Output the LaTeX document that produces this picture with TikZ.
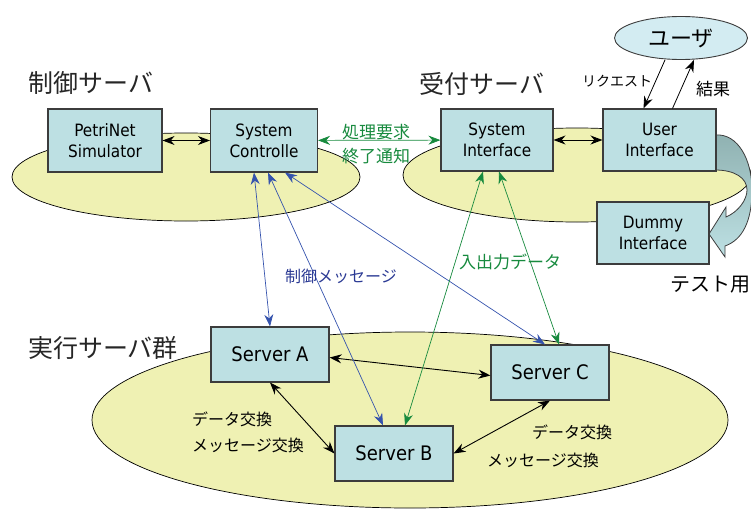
\documentclass[tikz,border=0pt]{standalone}
\usepackage{fontspec}
\setmainfont{DejaVu Sans Condensed}
\newfontfamily\jpfont{Noto Sans CJK JP}
\usetikzlibrary{positioning}
\usetikzlibrary{shapes.geometric, arrows.meta}

\definecolor{boxfill}{HTML}{BDE0E3}
\definecolor{boxline}{HTML}{3C3C3C}
\definecolor{groupfill}{HTML}{EFF1B3}
\definecolor{userfill}{HTML}{D3ECF2}
\definecolor{turndark}{HTML}{8FB1B1}
\definecolor{ctrlblue}{HTML}{3553AD}
\definecolor{ctrltext}{HTML}{2B3A94}
\definecolor{datagreen}{HTML}{178A3E}

\tikzset{
    unitbox/.style={rectangle, draw=boxline, line width=1.1pt, fill=boxfill,
        align=center, inner sep=0pt, font=\fontsize{17}{21}\selectfont},
    serverbox/.style={unitbox, minimum width=118pt, minimum height=55pt,
        font=\fontsize{20}{24}\selectfont},
    groupellipse/.style={ellipse, draw=black, line width=0.7pt, fill=groupfill, inner sep=0pt},
    heading/.style={font=\jpfont\fontsize{25}{30}\selectfont, text=black!85, inner sep=0pt},
    jplabel/.style={font=\jpfont\fontsize{#1}{#1}\selectfont, inner sep=0pt},
    jplabel/.default=16,
    linkline/.style={<->, line width=0.9pt},
    ctrlline/.style={<->, draw=ctrlblue, line width=0.7pt},
    dataline/.style={<->, draw=datagreen, line width=0.7pt},
}

\begin{document}
\begin{tikzpicture}[x=1pt, y=-1pt, >={Stealth[length=12pt, width=9pt]}]
    \useasboundingbox (0,0) rectangle (751,511);

    \node[groupellipse, minimum width=348pt, minimum height=88pt] (ctrlgroup) at (186,177) {};
    \node[groupellipse, minimum width=348pt, minimum height=94pt] (recvgroup) at (577,175) {};
    \node[groupellipse, minimum width=636pt, minimum height=176pt] (execgroup) at (410,420) {};
    \node
    [
        ellipse,
        draw=boxline,
        line width=0.9pt,
        fill=userfill,
        minimum width=133pt,
        minimum height=43pt,
        font=\jpfont\fontsize{22}{26}\selectfont
    ] (U) at (681,38) {ユーザ};

    \node[heading] (ctrltitle) at (91,83) {制御サーバ};
    \node[heading] (recvtitle) at (482,84) {受付サーバ};
    \node[heading] (exectitle) at (103,348) {実行サーバ群};
    \node[jplabel=20] (testtitle) at (710,285) {テスト用};

    \draw[draw=boxline, line width=0.8pt, top color=turndark, bottom color=boxfill,
        middle color=turndark!50!boxfill]
        (715,135) .. controls (738,133) and (752,160) .. (752,190)
        .. controls (752,222) and (742,240) .. (725,246)
        -- (725,257) -- (709,234) -- (726,207) -- (726,217)
        .. controls (738,212) and (747,200) .. (747,190)
        .. controls (747,178) and (735,170) .. (715,170) -- cycle;

    \node[unitbox, minimum width=114pt, minimum height=63pt] (PS) at (105,140.5) {PetriNet\\Simulator};
    \node[unitbox, minimum width=107pt, minimum height=63pt] (SC) at (264,140.5) {System\\Controlle};
    \node[unitbox, minimum width=112pt, minimum height=62pt] (SI) at (497,140) {System\\Interface};
    \node[unitbox, minimum width=113pt, minimum height=62pt] (UI) at (659.5,140) {User\\Interface};
    \node[unitbox, minimum width=112pt, minimum height=62pt] (DI) at (653,233) {Dummy\\Interface};
    \node[serverbox] (A) at (270,354.5) {Server A};
    \node[serverbox] (B) at (394,453.5) {Server B};
    \node[serverbox] (C) at (550,372.5) {Server C};

    \draw[linkline] (PS) -- (SC);
    \draw[linkline] (SI) -- (UI);
    \draw[linkline] ([yshift=-3pt]A.east) -- ([yshift=-3pt]C.west);
    \draw[linkline] (A.south) -- (B.west);
    \draw[linkline] (B.east) -- (C.south);

    \draw[ctrlline] ([xshift=-10pt]SC.south) -- (A.north);
    \draw[ctrlline] ([xshift=4pt]SC.south) -- ([xshift=-11pt]B.north);
    \draw[ctrlline] ([xshift=21pt]SC.south) -- ([xshift=-5pt]C.north);
    \draw[dataline] ([xshift=-14pt]SI.south) -- ([xshift=11pt]B.north);
    \draw[dataline] ([xshift=2pt]SI.south) -- ([xshift=9pt]C.north);
    \draw[dataline] (SC) -- (SI);

    \draw[->, line width=0.8pt] ([xshift=-16pt]U.south) -- ([xshift=-16pt]UI.north);
    \draw[->, line width=0.8pt] ([xshift=13pt]UI.north) -- ([xshift=13pt]U.south);

    \node[jplabel=17, text=datagreen] (reqlabel) at (376,132) {処理要求};
    \node[jplabel=17, text=datagreen] (donelabel) at (376,156) {終了通知};
    \node[jplabel, text=ctrltext] (ctrlmsg) at (341,276) {制御メッセージ};
    \node[jplabel=17, text=datagreen] (iodata) at (510,262) {入出力データ};
    \node[jplabel=14] (request) at (617,81) {リクエスト};
    \node[jplabel=17] (result) at (713,89) {結果};

    \node[jplabel, anchor=west] (abdata) at (192,419) {データ交換};
    \node[jplabel, anchor=west] (abmsg) at (192,445) {メッセージ交換};
    \node[jplabel] (bcdata) at (572,432) {データ交換};
    \node[jplabel] (bcmsg) at (543,460) {メッセージ交換};
\end{tikzpicture}
\end{document}
